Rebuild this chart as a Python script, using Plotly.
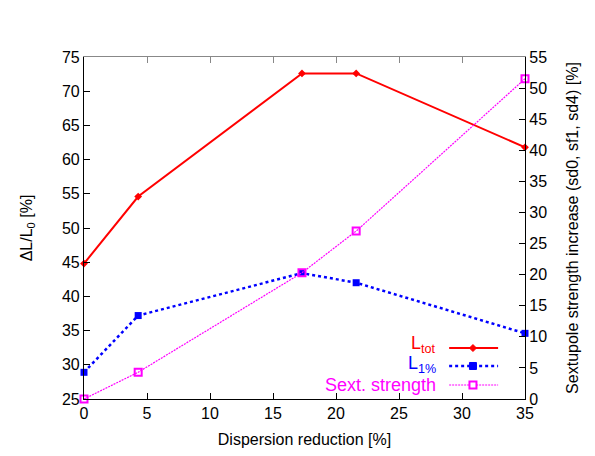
import plotly.graph_objects as go

# Data
dispersion_reduction = [0, 4.3, 17.3, 21.6, 35]
L_tot = [44.8, 54.6, 72.6, 72.6, 61.8]
L_1pct = [28.9, 37.2, 43.4, 42.0, 34.6]
sext_strength = [0.0, 4.3, 20.3, 27.0, 51.5]

x_ticks = [0, 5, 10, 15, 20, 25, 30, 35]
y_ticks = [25, 30, 35, 40, 45, 50, 55, 60, 65, 70, 75]
y2_ticks = [0, 5, 10, 15, 20, 25, 30, 35, 40, 45, 50, 55]

RED = "#ff0000"
BLUE = "#0000ff"
MAG = "#ff00ff"
FONT = "Liberation Sans, Arial, sans-serif"

fig = go.Figure()
fig.add_trace(go.Scatter(x=dispersion_reduction, y=L_tot, mode="lines+markers",
                         line=dict(color=RED, width=2),
                         marker=dict(symbol="diamond", size=6, color=RED),
                         cliponaxis=False, showlegend=False))
fig.add_trace(go.Scatter(x=dispersion_reduction, y=L_1pct, mode="lines+markers",
                         line=dict(color=BLUE, width=2.5, dash="dot"),
                         marker=dict(symbol="square", size=7, color=BLUE),
                         cliponaxis=False, showlegend=False))
fig.add_trace(go.Scatter(x=dispersion_reduction, y=sext_strength, mode="lines+markers",
                         yaxis="y2",
                         line=dict(color=MAG, width=1.2, dash="2px,1px"),
                         marker=dict(symbol="square-open", size=7, color=MAG,
                                     line=dict(width=2, color=MAG)),
                         cliponaxis=False, showlegend=False))

axis_common = dict(showgrid=False, zeroline=False, ticks="inside", ticklen=6,
                   tickcolor="black", linecolor="black", linewidth=1.2, showline=True,
                   tickfont=dict(family=FONT, size=16, color="black"))

fig.update_layout(
    width=595, height=456,
    margin=dict(l=76, r=78, t=49, b=65),
    paper_bgcolor="white", plot_bgcolor="white",
    font=dict(family=FONT, size=16, color="black"),
    xaxis=dict(range=[0, 35], tickvals=x_ticks, **axis_common,
               title=dict(text="Dispersion reduction [%]", font=dict(size=16), standoff=12)),
    xaxis2=dict(range=[0, 35], overlaying="x", side="top", tickvals=x_ticks,
                showticklabels=False, ticks="inside", ticklen=6, tickcolor="#888888",
                showline=True, linecolor="#888888", linewidth=1.2, showgrid=False,
                zeroline=False),
    yaxis=dict(range=[25, 75], tickvals=y_ticks, **axis_common,
               title=dict(text="ΔL/L<sub>0</sub> [%]", font=dict(size=16), standoff=25)),
    yaxis2=dict(range=[0, 55], tickvals=y2_ticks, overlaying="y", side="right",
                **axis_common,
                title=dict(text="Sextupole strength increase (sd0, sf1, sd4) [%]",
                           font=dict(size=16), standoff=20)),
)

# dummy trace to activate top axis
fig.add_trace(go.Scatter(x=[None], y=[None], xaxis="x2", showlegend=False, hoverinfo="skip"))

# Legend (text left of samples, as in the reference)
legend_items = [
    ("L<sub>tot</sub>", RED, 0.149, 0.160, "solid", 2, "diamond"),
    ("L<sub>1%</sub>", BLUE, 0.0965, 0.101, "dot", 2.5, "square"),
    ("Sext. strength", MAG, 0.041, 0.041, "2px,1px", 1.2, "square-open"),
]
x_text = 0.803
x0, x1, xm = 0.828, 0.939, 0.882
for label, color, yy, ty, dash, w, sym in legend_items:
    fig.add_annotation(x=x_text, y=ty, xref="paper", yref="paper", text=label,
                       showarrow=False, xanchor="right", yanchor="middle",
                       font=dict(family=FONT, size=18, color=color))
    fig.add_shape(type="line", xref="paper", yref="paper", x0=x0, x1=x1, y0=yy, y1=yy,
                  line=dict(color=color, width=w, dash=dash))
    hx, hy = 3.5 / 441, 3.5 / 342
    if sym == "diamond":
        path = (f"M {xm-hx} {yy} L {xm} {yy+hy} L {xm+hx} {yy} L {xm} {yy-hy} Z")
        fig.add_shape(type="path", xref="paper", yref="paper", path=path,
                      fillcolor=color, line=dict(color=color, width=1))
    elif sym == "square":
        fig.add_shape(type="rect", xref="paper", yref="paper", x0=xm-hx, x1=xm+hx,
                      y0=yy-hy, y1=yy+hy, fillcolor=color, line=dict(color=color, width=1))
    else:
        fig.add_shape(type="rect", xref="paper", yref="paper", x0=xm-hx, x1=xm+hx,
                      y0=yy-hy, y1=yy+hy, fillcolor="white", line=dict(color=color, width=2))

fig.write_html("out.html")
